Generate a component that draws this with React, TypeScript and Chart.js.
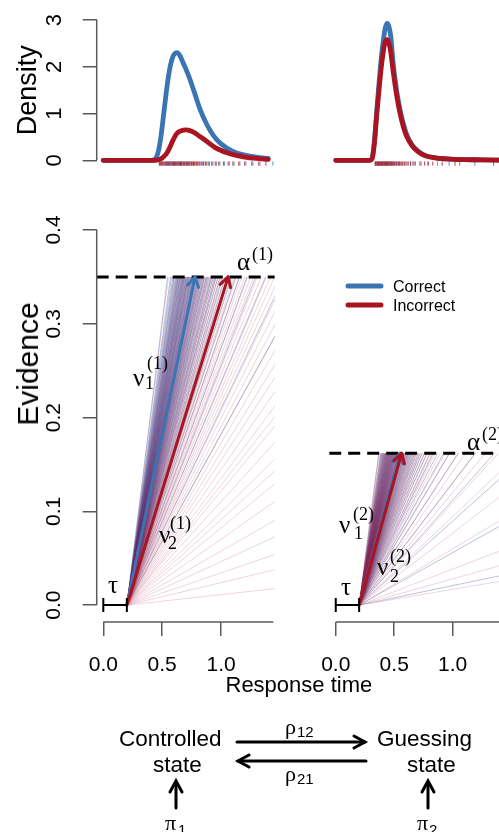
import React, { useEffect, useRef } from "react";
import { Chart, registerables } from "chart.js";

Chart.register(...registerables);

// ================= DATA =================
const TAU = 0.2;
const THRESHOLDS = [0.35, 0.162]; // alpha^(1), alpha^(2)
const DRIFT_CORRECT = [0.605, 0.462]; // nu_1^(1), nu_1^(2)
const DRIFT_INCORRECT = [0.407, 0.445]; // nu_2^(1), nu_2^(2)

const X_MIN = -0.056;
const X_MAX = 1.456;
const DENSITY_MIN = -0.12;
const DENSITY_MAX = 3.12;
const EVIDENCE_MIN = -0.018;
const EVIDENCE_MAX = 0.416;

const X_TICKS = [0, 0.5, 1.0];
const DENSITY_TICKS = [0, 1, 2, 3];
const EVIDENCE_TICKS = [0, 0.1, 0.2, 0.3, 0.4];
const X_AXIS_EXTENT_1 = [0, 1.443];
const X_AXIS_EXTENT_2 = [0, 1.456];

// density curves, state 1 (controlled)
const DENS_T_CORRECT_1 = [0, 0.4, 0.43, 0.45, 0.47, 0.49, 0.51, 0.53, 0.55, 0.57, 0.59, 0.61, 0.63, 0.65, 0.67, 0.7, 0.74, 0.78, 0.82, 0.88, 0.94, 1.0, 1.1, 1.2, 1.3, 1.4];
const DENS_CORRECT_1 = [0, 0, 0.01, 0.06, 0.22, 0.52, 0.93, 1.36, 1.74, 2.03, 2.21, 2.29, 2.3, 2.24, 2.13, 1.96, 1.7, 1.4, 1.1, 0.76, 0.51, 0.35, 0.19, 0.11, 0.065, 0.04];
const DENS_T_INCORRECT_1 = [0, 0.44, 0.47, 0.5, 0.53, 0.56, 0.59, 0.62, 0.65, 0.68, 0.7, 0.72, 0.75, 0.78, 0.82, 0.86, 0.9, 0.95, 1.0, 1.05, 1.12, 1.2, 1.3, 1.4];
const DENS_INCORRECT_1 = [0, 0, 0.01, 0.05, 0.12, 0.25, 0.42, 0.56, 0.62, 0.645, 0.65, 0.645, 0.62, 0.58, 0.51, 0.44, 0.36, 0.27, 0.21, 0.16, 0.11, 0.07, 0.04, 0.02];

// density curves, state 2 (guessing)
const DENS_T_CORRECT_2 = [0, 0.29, 0.31, 0.33, 0.35, 0.37, 0.39, 0.41, 0.425, 0.44, 0.455, 0.47, 0.49, 0.52, 0.55, 0.58, 0.61, 0.65, 0.7, 0.76, 0.85, 0.95, 1.1, 1.25, 1.4];
const DENS_CORRECT_2 = [0, 0, 0.03, 0.4, 1.05, 1.65, 2.2, 2.62, 2.85, 2.93, 2.86, 2.66, 2.1, 1.5, 1.08, 0.76, 0.53, 0.34, 0.2, 0.11, 0.05, 0.03, 0.015, 0.01, 0.005];
const DENS_T_INCORRECT_2 = [0, 0.29, 0.31, 0.33, 0.35, 0.37, 0.39, 0.41, 0.425, 0.44, 0.455, 0.47, 0.49, 0.52, 0.55, 0.58, 0.61, 0.65, 0.7, 0.76, 0.85, 0.95, 1.1, 1.25, 1.4];
const DENS_INCORRECT_2 = [0, 0, 0.03, 0.35, 0.95, 1.5, 2.0, 2.38, 2.55, 2.58, 2.5, 2.32, 1.92, 1.4, 1.0, 0.7, 0.49, 0.32, 0.19, 0.1, 0.05, 0.03, 0.015, 0.01, 0.005];

// observed response times (rug)
const RUG_CORRECT_1 = [0.48, 0.5, 0.515, 0.53, 0.54, 0.555, 0.565, 0.575, 0.585, 0.595, 0.605, 0.615, 0.625, 0.635, 0.645, 0.655, 0.665, 0.68, 0.69, 0.705, 0.72, 0.735, 0.75, 0.765, 0.785, 0.8, 0.82, 0.845, 0.87, 0.895, 0.93, 0.96, 0.99, 1.03, 1.07, 1.11, 1.16, 1.21, 1.27, 1.33, 1.44];
const RUG_INCORRECT_1 = [0.475, 0.485, 0.495, 0.505, 0.515, 0.525, 0.535, 0.545, 0.555, 0.565, 0.575, 0.585, 0.595, 0.605, 0.615, 0.625, 0.635, 0.645, 0.655, 0.665, 0.675, 0.685, 0.695, 0.705, 0.715, 0.725, 0.735, 0.745, 0.755, 0.765, 0.775, 0.79, 0.805, 0.82, 0.835, 0.85, 0.865, 0.88, 0.9, 0.92, 0.95, 0.98, 1.02, 1.06, 1.1, 1.15, 1.2, 1.26, 1.32, 1.38];
const RUG_CORRECT_2 = [0.34, 0.355, 0.365, 0.375, 0.385, 0.395, 0.405, 0.415, 0.425, 0.435, 0.445, 0.455, 0.465, 0.475, 0.49, 0.505, 0.52, 0.54, 0.56, 0.585, 0.61, 0.64, 0.67, 0.73, 0.79, 0.87, 0.97, 1.06, 1.19];
const RUG_INCORRECT_2 = [0.336, 0.343, 0.35, 0.357, 0.364, 0.371, 0.378, 0.385, 0.392, 0.399, 0.406, 0.413, 0.42, 0.427, 0.434, 0.441, 0.448, 0.455, 0.462, 0.47, 0.478, 0.486, 0.495, 0.505, 0.515, 0.525, 0.535, 0.545, 0.557, 0.57, 0.585, 0.6, 0.62, 0.64, 0.66, 0.68, 0.72, 0.76, 0.79, 0.83, 0.91, 1.02, 1.35];

// sampled drift rates of the accumulator traces
const FAN_CORRECT_1 = [0.228, 0.262, 0.296, 0.32, 0.343, 0.366, 0.38, 0.395, 0.409, 0.42, 0.431, 0.441, 0.452, 0.462, 0.468, 0.477, 0.485, 0.491, 0.5, 0.508, 0.514, 0.52, 0.529, 0.533, 0.54, 0.548, 0.553, 0.56, 0.566, 0.571, 0.577, 0.583, 0.588, 0.594, 0.601, 0.605, 0.612, 0.618, 0.622, 0.628, 0.635, 0.639, 0.645, 0.653, 0.657, 0.664, 0.671, 0.674, 0.68, 0.688, 0.693, 0.7, 0.708, 0.712, 0.72, 0.727, 0.733, 0.74, 0.749, 0.755, 0.764, 0.773, 0.779, 0.79, 0.801, 0.809, 0.82, 0.833, 0.845, 0.86, 0.876, 0.897, 0.92, 0.944, 1.012];
const FAN_INCORRECT_1 = [0.014, 0.03, 0.043, 0.058, 0.072, 0.088, 0.103, 0.114, 0.124, 0.138, 0.152, 0.16, 0.169, 0.181, 0.193, 0.204, 0.216, 0.228, 0.238, 0.249, 0.259, 0.27, 0.279, 0.287, 0.298, 0.307, 0.316, 0.325, 0.333, 0.342, 0.35, 0.359, 0.367, 0.377, 0.385, 0.393, 0.402, 0.41, 0.418, 0.427, 0.435, 0.443, 0.453, 0.461, 0.469, 0.478, 0.486, 0.494, 0.504, 0.513, 0.522, 0.533, 0.541, 0.549, 0.56, 0.568, 0.577, 0.591, 0.6, 0.61, 0.628, 0.638, 0.648, 0.668, 0.68, 0.694, 0.715, 0.73, 0.748, 0.777, 0.8, 0.823, 0.876, 0.989];
const FAN_CORRECT_2 = [0.026, 0.07, 0.112, 0.14, 0.163, 0.191, 0.21, 0.224, 0.241, 0.255, 0.266, 0.279, 0.29, 0.302, 0.311, 0.32, 0.331, 0.339, 0.348, 0.357, 0.366, 0.374, 0.382, 0.388, 0.397, 0.404, 0.411, 0.418, 0.426, 0.432, 0.439, 0.446, 0.452, 0.46, 0.467, 0.473, 0.48, 0.487, 0.493, 0.5, 0.507, 0.513, 0.52, 0.528, 0.534, 0.541, 0.548, 0.554, 0.562, 0.569, 0.576, 0.584, 0.592, 0.598, 0.606, 0.614, 0.623, 0.631, 0.64, 0.65, 0.659, 0.668, 0.678, 0.69, 0.7, 0.714, 0.726, 0.738, 0.756, 0.77, 0.788, 0.817, 0.84, 0.868, 0.953];
const FAN_INCORRECT_2 = [0.021, 0.035, 0.048, 0.075, 0.096, 0.118, 0.136, 0.15, 0.163, 0.178, 0.191, 0.209, 0.221, 0.233, 0.249, 0.258, 0.268, 0.28, 0.29, 0.299, 0.31, 0.319, 0.328, 0.337, 0.345, 0.352, 0.361, 0.369, 0.377, 0.385, 0.393, 0.4, 0.407, 0.415, 0.422, 0.43, 0.438, 0.446, 0.453, 0.46, 0.468, 0.475, 0.483, 0.49, 0.498, 0.505, 0.513, 0.52, 0.528, 0.535, 0.543, 0.551, 0.559, 0.568, 0.575, 0.583, 0.592, 0.6, 0.61, 0.621, 0.63, 0.64, 0.652, 0.662, 0.671, 0.687, 0.7, 0.711, 0.729, 0.745, 0.757, 0.784, 0.8, 0.824, 0.872, 0.9, 0.971];

// ================= STYLE / LAYOUT =================
const SANS = '"Liberation Sans", Arial, Helvetica, sans-serif';
const SERIF = '"Liberation Serif", "DejaVu Serif", serif';
const BLUE = "#3A74B2";
const RED = "#AA1421";
const BLUE_RUG = "rgba(58,116,178,0.8)";
const RED_RUG = "rgba(170,20,33,0.8)";
const FAN_BLUE = "rgba(32,52,140,0.3)";
const FAN_RED = "rgba(172,26,66,0.19)";
const AXIS_COLOR = "#5a5a5a";
const RUG_LEVEL = -0.07;
const PAD = 60;
const X_AXIS_HEIGHT = 80;

const AREA_DENS_1 = { L: 96.7, T: 14.4, R: 274.8, B: 165.9, wy: 96.7, hx: 0 };
const AREA_DENS_2 = { L: 329.2, T: 14.4, R: 506, B: 165.9, wy: 0, hx: 0 };
const AREA_EVID_1 = { L: 96.7, T: 215, R: 274.8, B: 622, wy: 96.7, hx: X_AXIS_HEIGHT };
const AREA_EVID_2 = { L: 329.2, T: 215, R: 506, B: 622, wy: 0, hx: X_AXIS_HEIGHT };

function frame(a: any) {
  const left = Math.floor(a.L - a.wy - PAD);
  const top = Math.floor(a.T - PAD);
  const right = Math.ceil(a.R + PAD);
  const bottom = Math.ceil(a.B + a.hx + PAD);
  return {
    left,
    top,
    width: right - left,
    height: bottom - top,
    padding: {
      left: a.L - a.wy - left,
      top: a.T - top,
      right: right - a.R,
      bottom: bottom - a.B - a.hx,
    },
  };
}

function zeroPad(s: any) {
  s.paddingTop = 0;
  s.paddingBottom = 0;
  s.paddingLeft = 0;
  s.paddingRight = 0;
}

// draws R-style axis lines spanning only a given value range
const rAxisPlugin = {
  id: "rAxis",
  afterDraw(chart: any, _args: any, opts: any) {
    const ctx = chart.ctx;
    ctx.save();
    ctx.strokeStyle = AXIS_COLOR;
    ctx.lineWidth = 1.5;
    if (opts.x) {
      const s = chart.scales.x;
      ctx.beginPath();
      ctx.moveTo(s.getPixelForValue(opts.x[0]), s.top);
      ctx.lineTo(s.getPixelForValue(opts.x[1]), s.top);
      ctx.stroke();
    }
    if (opts.y) {
      const s = chart.scales.y;
      ctx.beginPath();
      ctx.moveTo(s.right, s.getPixelForValue(opts.y[0]));
      ctx.lineTo(s.right, s.getPixelForValue(opts.y[1]));
      ctx.stroke();
    }
    ctx.restore();
  },
};

// arrow heads and bracket caps on flagged datasets
const arrowPlugin = {
  id: "arrowMarks",
  afterDatasetDraw(chart: any, args: any) {
    const ds = chart.data.datasets[args.index];
    if (!ds.arrowHead && !ds.endCaps) return;
    const pts = args.meta.data;
    if (!pts || pts.length < 2) return;
    const p0 = pts[0];
    const p1 = pts[pts.length - 1];
    const ctx = chart.ctx;
    ctx.save();
    ctx.strokeStyle = ds.borderColor;
    ctx.lineWidth = ds.borderWidth;
    ctx.lineCap = "round";
    ctx.lineJoin = "round";
    if (ds.arrowHead) {
      const a = Math.atan2(p1.y - p0.y, p1.x - p0.x);
      const len = 11;
      const ang = Math.PI / 6;
      ctx.beginPath();
      ctx.moveTo(p1.x - len * Math.cos(a - ang), p1.y - len * Math.sin(a - ang));
      ctx.lineTo(p1.x, p1.y);
      ctx.lineTo(p1.x - len * Math.cos(a + ang), p1.y - len * Math.sin(a + ang));
      ctx.stroke();
    }
    if (ds.endCaps) {
      ctx.lineCap = "butt";
      ctx.beginPath();
      for (const p of [p0, p1]) {
        ctx.moveTo(p.x, p.y - 7);
        ctx.lineTo(p.x, p.y + 7);
      }
      ctx.stroke();
    }
    ctx.restore();
  },
};

function lineDs(data: any[], color: string, width: number, order: number, extra: any = {}) {
  return {
    type: "line",
    data,
    borderColor: color,
    borderWidth: width,
    pointRadius: 0,
    fill: false,
    order,
    borderCapStyle: "butt",
    ...extra,
  };
}

function pairs(xs: number[], ys: number[]) {
  return xs.map((x, i) => ({ x, y: ys[i] }));
}

function rugDs(xs: number[], color: string, order: number) {
  return {
    type: "scatter",
    data: xs.map((x) => ({ x, y: RUG_LEVEL })),
    pointStyle: "line",
    rotation: 90,
    pointRadius: 2.1,
    borderWidth: 1,
    borderColor: color,
    backgroundColor: color,
    order,
  };
}

function gridOpts() {
  return { drawOnChartArea: false, drawTicks: true, tickLength: 14, color: AXIS_COLOR, lineWidth: 1.5 };
}

function xScale(visible: boolean) {
  return {
    type: "linear",
    min: X_MIN,
    max: X_MAX,
    display: visible,
    afterBuildTicks: (s: any) => {
      s.ticks = X_TICKS.map((value) => ({ value }));
    },
    afterFit: (s: any) => {
      if (visible) s.height = X_AXIS_HEIGHT;
      zeroPad(s);
    },
    border: { display: false },
    grid: gridOpts(),
    ticks: {
      autoSkip: false,
      minRotation: 0,
      maxRotation: 0,
      padding: 16.9,
      color: "#000",
      font: { size: 21, family: SANS },
      callback: (v: any) => Number(v).toFixed(1),
    },
  };
}

function baseOptions(padding: any) {
  return {
    responsive: false,
    animation: false,
    devicePixelRatio: 1,
    events: [],
    layout: { padding },
    plugins: {
      legend: { display: false },
      tooltip: { enabled: false },
      title: { display: false },
    },
    elements: { point: { radius: 0 } },
  };
}

function densityConfig(padding: any, panel: number) {
  const showY = panel === 0;
  const curveOpts = { cubicInterpolationMode: "monotone", borderCapStyle: "round" };
  const datasets = panel === 0
    ? [
        lineDs(pairs(DENS_T_INCORRECT_1, DENS_INCORRECT_1), RED, 4.8, 1, curveOpts),
        lineDs(pairs(DENS_T_CORRECT_1, DENS_CORRECT_1), BLUE, 4.8, 2, curveOpts),
        rugDs(RUG_INCORRECT_1, RED_RUG, 3),
        rugDs(RUG_CORRECT_1, BLUE_RUG, 4),
      ]
    : [
        lineDs(pairs(DENS_T_INCORRECT_2, DENS_INCORRECT_2), RED, 4.8, 1, curveOpts),
        lineDs(pairs(DENS_T_CORRECT_2, DENS_CORRECT_2), BLUE, 4.8, 2, curveOpts),
        rugDs(RUG_INCORRECT_2, RED_RUG, 3),
        rugDs(RUG_CORRECT_2, BLUE_RUG, 4),
      ];
  const opts: any = baseOptions(padding);
  opts.plugins.rAxis = showY ? { y: [DENSITY_TICKS[0], DENSITY_TICKS[DENSITY_TICKS.length - 1]] } : {};
  opts.scales = {
    x: xScale(false),
    y: {
      type: "linear",
      min: DENSITY_MIN,
      max: DENSITY_MAX,
      display: showY,
      afterBuildTicks: (s: any) => {
        s.ticks = DENSITY_TICKS.map((value) => ({ value }));
      },
      afterFit: (s: any) => {
        if (showY) s.width = AREA_DENS_1.wy;
        zeroPad(s);
      },
      border: { display: false },
      grid: gridOpts(),
      ticks: {
        autoSkip: false,
        minRotation: 90,
        maxRotation: 90,
        crossAlign: "center",
        padding: 21.6,
        color: "#000",
        font: { size: 22, family: SANS },
        callback: (v: any) => Number(v).toFixed(0),
      },
      title: {
        display: true,
        text: "Density",
        color: "#000",
        font: { size: 27, family: SANS },
        padding: { top: 12.3, bottom: 0 },
      },
    },
  };
  return { type: "line", data: { datasets }, options: opts, plugins: [rAxisPlugin] };
}

function evidenceConfig(padding: any, panel: number) {
  const a = THRESHOLDS[panel];
  const fanC = panel === 0 ? FAN_CORRECT_1 : FAN_CORRECT_2;
  const fanI = panel === 0 ? FAN_INCORRECT_1 : FAN_INCORRECT_2;
  const showY = panel === 0;
  const trace = (v: number) => [{ x: TAU, y: 0 }, { x: TAU + a / v, y: a }];
  const datasets = [
    ...fanC.map((v) => lineDs(trace(v), FAN_BLUE, 1, 60)),
    ...fanI.map((v) => lineDs(trace(v), FAN_RED, 1, 50)),
    lineDs([{ x: X_MIN, y: a }, { x: X_MAX, y: a }], "#000", 3, 40, { borderDash: [12, 7] }),
    lineDs(trace(DRIFT_CORRECT[panel]), BLUE, 3, 30, { arrowHead: true, borderCapStyle: "round" }),
    lineDs(trace(DRIFT_INCORRECT[panel]), RED, 3, 20, { arrowHead: true, borderCapStyle: "round" }),
    lineDs([{ x: 0, y: 0 }, { x: TAU, y: 0 }], "#000", 2, 10, { endCaps: true }),
  ];
  const opts: any = baseOptions(padding);
  opts.plugins.rAxis = {
    x: panel === 0 ? X_AXIS_EXTENT_1 : X_AXIS_EXTENT_2,
    ...(showY ? { y: [EVIDENCE_TICKS[0], EVIDENCE_TICKS[EVIDENCE_TICKS.length - 1]] } : {}),
  };
  opts.scales = {
    x: xScale(true),
    y: {
      type: "linear",
      min: EVIDENCE_MIN,
      max: EVIDENCE_MAX,
      display: showY,
      afterBuildTicks: (s: any) => {
        s.ticks = EVIDENCE_TICKS.map((value) => ({ value }));
      },
      afterFit: (s: any) => {
        if (showY) s.width = AREA_EVID_1.wy;
        zeroPad(s);
      },
      border: { display: false },
      grid: gridOpts(),
      ticks: {
        autoSkip: false,
        minRotation: 90,
        maxRotation: 90,
        crossAlign: "center",
        padding: 14.1,
        color: "#000",
        font: { size: 21, family: SANS },
        callback: (v: any) => Number(v).toFixed(1),
      },
    },
  };
  return { type: "line", data: { datasets }, options: opts, plugins: [rAxisPlugin, arrowPlugin] };
}

function ChartCanvas({ area, build }: { area: any; build: (p: any) => any }) {
  const ref = useRef<HTMLCanvasElement | null>(null);
  const f = frame(area);
  useEffect(() => {
    const chart = new Chart(ref.current as HTMLCanvasElement, build(f.padding));
    return () => chart.destroy();
  }, []);
  return (
    <canvas
      ref={ref}
      width={f.width}
      height={f.height}
      style={{ position: "absolute", left: f.left, top: f.top, width: f.width, height: f.height }}
    />
  );
}

// text placed by baseline
function Txt({ x, bl, size, family = SANS, children }: any) {
  const asc = family === SERIF ? 0.8375 : 0.8465;
  return (
    <div
      style={{
        position: "absolute",
        left: x,
        top: bl - asc * size,
        fontSize: size,
        lineHeight: 1,
        fontFamily: family,
        whiteSpace: "nowrap",
        color: "#000",
      }}
    >
      {children}
    </div>
  );
}

function MathLabel({ base, x, bl, sup, supX, supBl, sub, subX, subBl }: any) {
  return (
    <>
      <Txt x={x} bl={bl} size={25} family={SERIF}>{base}</Txt>
      {sup ? <Txt x={supX} bl={supBl} size={18} family={SERIF}>{sup}</Txt> : null}
      {sub ? <Txt x={subX} bl={subBl} size={18} family={SERIF}>{sub}</Txt> : null}
    </>
  );
}

export default function App() {
  return (
    <div
      style={{
        position: "fixed",
        left: 0,
        top: 0,
        width: 499,
        height: 832,
        overflow: "hidden",
        background: "#fff",
      }}
    >
      <ChartCanvas area={AREA_DENS_1} build={(p) => densityConfig(p, 0)} />
      <ChartCanvas area={AREA_DENS_2} build={(p) => densityConfig(p, 1)} />
      <ChartCanvas area={AREA_EVID_1} build={(p) => evidenceConfig(p, 0)} />
      <ChartCanvas area={AREA_EVID_2} build={(p) => evidenceConfig(p, 1)} />

      {/* axis titles */}
      <div
        style={{
          position: "absolute",
          left: 28,
          top: 364,
          transform: "translate(-50%, -50%) rotate(-90deg)",
          fontFamily: SANS,
          fontSize: 30,
          lineHeight: 1,
          whiteSpace: "nowrap",
          color: "#000",
        }}
      >
        Evidence
      </div>
      <Txt x={225.5} bl={693} size={22}>Response time</Txt>

      {/* panel annotations */}
      <MathLabel base="α" x={237} bl={270} sup="(1)" supX={252} supBl={260} />
      <MathLabel base="ν" x={133} bl={386} sup="(1)" supX={147} supBl={369} sub="1" subX={145} subBl={389} />
      <MathLabel base="ν" x={159} bl={543} sup="(1)" supX={170} supBl={529} sub="2" subX={168} subBl={549} />
      <MathLabel base="τ" x={108} bl={593} />
      <MathLabel base="α" x={467} bl={450} sup="(2)" supX={482} supBl={440} />
      <MathLabel base="ν" x={339} bl={533} sup="(2)" supX={353} supBl={520} sub="1" subX={354} subBl={539} />
      <MathLabel base="ν" x={377} bl={575} sup="(2)" supX={390} supBl={562} sub="2" subX={390} subBl={582} />
      <MathLabel base="τ" x={341} bl={595} />

      {/* legend */}
      <Txt x={393} bl={293} size={16}>Correct</Txt>
      <Txt x={393} bl={312} size={16}>Incorrect</Txt>

      {/* state diagram */}
      <Txt x={119} bl={747} size={22.5}>Controlled</Txt>
      <Txt x={153} bl={773} size={22.5}>state</Txt>
      <Txt x={377} bl={747} size={22.5}>Guessing</Txt>
      <Txt x={407} bl={773} size={22.5}>state</Txt>
      <Txt x={285} bl={734} size={22} family={SERIF}>ρ</Txt>
      <Txt x={297} bl={737} size={15}>12</Txt>
      <Txt x={285} bl={781} size={22} family={SERIF}>ρ</Txt>
      <Txt x={297} bl={784} size={15}>21</Txt>
      <Txt x={165} bl={830} size={22} family={SERIF}>π</Txt>
      <Txt x={178} bl={835} size={15}>1</Txt>
      <Txt x={417} bl={830} size={22} family={SERIF}>π</Txt>
      <Txt x={429} bl={835} size={15}>2</Txt>

      <svg width={499} height={832} style={{ position: "absolute", left: 0, top: 0 }}>
        <g stroke={BLUE} strokeWidth={5} strokeLinecap="round">
          <line x1={348} y1={286} x2={381} y2={286} />
        </g>
        <g stroke={RED} strokeWidth={5} strokeLinecap="round">
          <line x1={348} y1={305} x2={381} y2={305} />
        </g>
        <g stroke="#000" strokeWidth={3} fill="none" strokeLinecap="round" strokeLinejoin="miter">
          <line x1={237} y1={742} x2={365} y2={742} />
          <polyline points="354,736 365,742 354,748" />
          <line x1={238} y1={761} x2={366} y2={761} />
          <polyline points="249,755 238,761 249,767" />
          <line x1={176} y1={808} x2={176} y2={782} />
          <polyline points="170,792 176,781 182,792" />
          <line x1={428} y1={808} x2={428} y2={782} />
          <polyline points="422,792 428,781 434,792" />
        </g>
      </svg>
    </div>
  );
}
